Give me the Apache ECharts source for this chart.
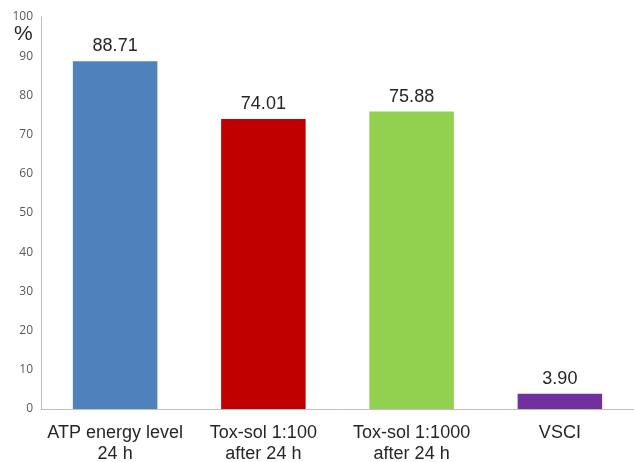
<!DOCTYPE html>
<html>
<head>
<meta charset="utf-8">
<script src="https://cdn.jsdelivr.net/npm/echarts@6/dist/echarts.min.js"></script>
<style>html,body{margin:0;padding:0;background:#fff}#c{width:634px;height:462px}</style>
</head>
<body>
<div id="c"></div>
<script>
var categories = ['ATP energy level\n24 h', 'Tox-sol 1:100\nafter 24 h', 'Tox-sol 1:1000\nafter 24 h', 'VSCI'];
var values = [88.71, 74.01, 75.88, 3.90];
var colors = ['#4F81BD', '#C00000', '#92D050', '#7030A0'];
var unitLabel = '%';

var chart = echarts.init(document.getElementById('c'));
chart.setOption({
  animation: false,
  title: {
    text: unitLabel, left: 14, top: 24, padding: 0,
    textStyle: { color: '#262626', fontSize: 21, fontWeight: 'normal', fontFamily: 'Liberation Sans, Arial' }
  },
  grid: { left: 41, right: 0, top: 17, bottom: 53, containLabel: false, outerBoundsMode: 'none' },
  xAxis: {
    type: 'category',
    data: categories,
    axisLine: { lineStyle: { color: '#BFBFBF', width: 1 } },
    axisTick: { show: false },
    axisLabel: { color: '#262626', fontSize: 18, fontFamily: 'Liberation Sans, Arial', lineHeight: 21, margin: 14, interval: 0 }
  },
  yAxis: {
    type: 'value',
    min: 0, max: 100, interval: 10,
    axisLine: { show: true, lineStyle: { color: '#BFBFBF', width: 1 } },
    axisTick: { show: false },
    splitLine: { show: false },
    axisLabel: { color: '#595959', fontSize: 12, fontFamily: 'Open Sans, Liberation Sans', margin: 8 }
  },
  series: [{
    type: 'bar',
    data: values.map(function (v, i) { return { value: v, itemStyle: { color: colors[i] } }; }),
    barWidth: '57%',
    label: {
      show: true, position: 'top', distance: 6,
      color: '#262626', fontSize: 18, fontFamily: 'Liberation Sans, Arial',
      formatter: function (p) { return p.value.toFixed(2); }
    }
  }]
});
</script>
</body>
</html>
